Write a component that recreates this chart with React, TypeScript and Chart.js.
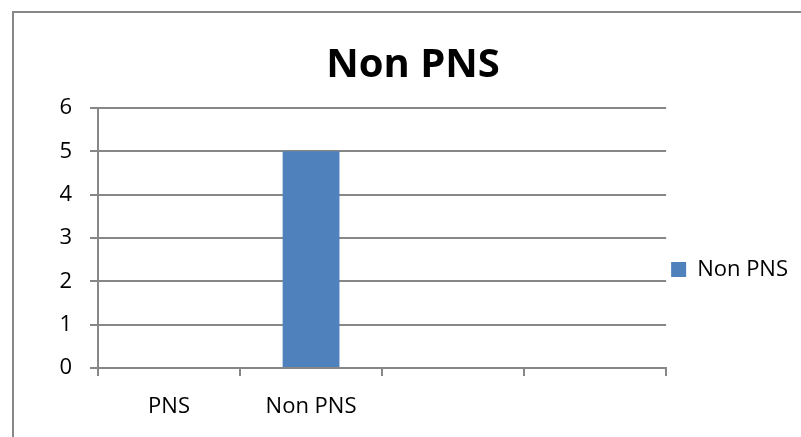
import React, { useEffect, useRef } from "react";
import { Chart, registerables } from "chart.js";

Chart.register(...registerables);

const categories: string[] = ["PNS", "Non PNS", "", ""];
const seriesName = "Non PNS";
const seriesValues: (number | null)[] = [0, 5, null, null];
const chartTitle = "Non PNS";
const yMin = 0;
const yMax = 6;
const yStep = 1;

const FONT = "'Open Sans', 'Noto Sans', sans-serif";
const GRID = "#878787";

export default function App() {
  const ref = useRef<HTMLCanvasElement | null>(null);

  useEffect(() => {
    if (!ref.current) return;
    const chart = new Chart(ref.current, {
      type: "bar",
      data: {
        labels: categories,
        datasets: [
          {
            label: seriesName,
            data: seriesValues,
            backgroundColor: "#4F81BD",
            borderWidth: 0,
            barPercentage: 0.4,
            categoryPercentage: 1,
          },
        ],
      },
      options: {
        animation: false,
        responsive: false,
        maintainAspectRatio: false,
        layout: { padding: { left: 28, right: 3, top: 0, bottom: 0 } },
        plugins: {
          title: {
            display: true,
            text: chartTitle,
            color: "#000",
            font: { family: FONT, size: 40, weight: "bold", lineHeight: 1.2 },
            padding: { top: 42, bottom: 18 },
          },
          legend: {
            display: true,
            position: "right",
            title: {
              display: true,
              text: " ",
              font: { family: FONT, size: 10, lineHeight: 1.2 },
              padding: { top: 0, bottom: 90 },
            },
            labels: {
              color: "#000",
              font: { family: FONT, size: 22 },
              boxWidth: 15,
              boxHeight: 15,
              padding: 5,
            },
          },
          tooltip: { enabled: false },
        },
        scales: {
          x: {
            type: "category",
            offset: true,
            grid: {
              display: true,
              offset: true,
              drawOnChartArea: false,
              drawTicks: true,
              tickLength: 8,
              color: GRID,
              lineWidth: 2,
            },
            border: { display: true, color: GRID, width: 2 },
            ticks: {
              color: "#000",
              font: { family: FONT, size: 22 },
              padding: 18,
              maxRotation: 0,
              autoSkip: false,
            },
            afterFit: (scale: any) => {
              scale.height = 69;
            },
          },
          y: {
            min: yMin,
            max: yMax,
            grid: {
              display: true,
              drawOnChartArea: true,
              drawTicks: true,
              tickLength: 8,
              color: GRID,
              lineWidth: 2,
            },
            border: { display: true, color: GRID, width: 2 },
            ticks: {
              stepSize: yStep,
              color: "#000",
              font: { family: FONT, size: 22 },
              padding: 18,
            },
            afterFit: (scale: any) => {
              scale.width = 70;
            },
          },
        },
      },
    });
    return () => chart.destroy();
  }, []);

  return (
    <div
      style={{
        position: "fixed",
        left: 0,
        top: 0,
        width: 801,
        height: 437,
        overflow: "hidden",
        background: "#fff",
      }}
    >
      <div
        style={{
          position: "absolute",
          left: 12,
          top: 11,
          width: 900,
          height: 500,
          border: "2px solid #878787",
        }}
      />
      <canvas
        ref={ref}
        width={801}
        height={437}
        style={{ position: "absolute", left: 0, top: 0, width: 801, height: 437 }}
      />
    </div>
  );
}
